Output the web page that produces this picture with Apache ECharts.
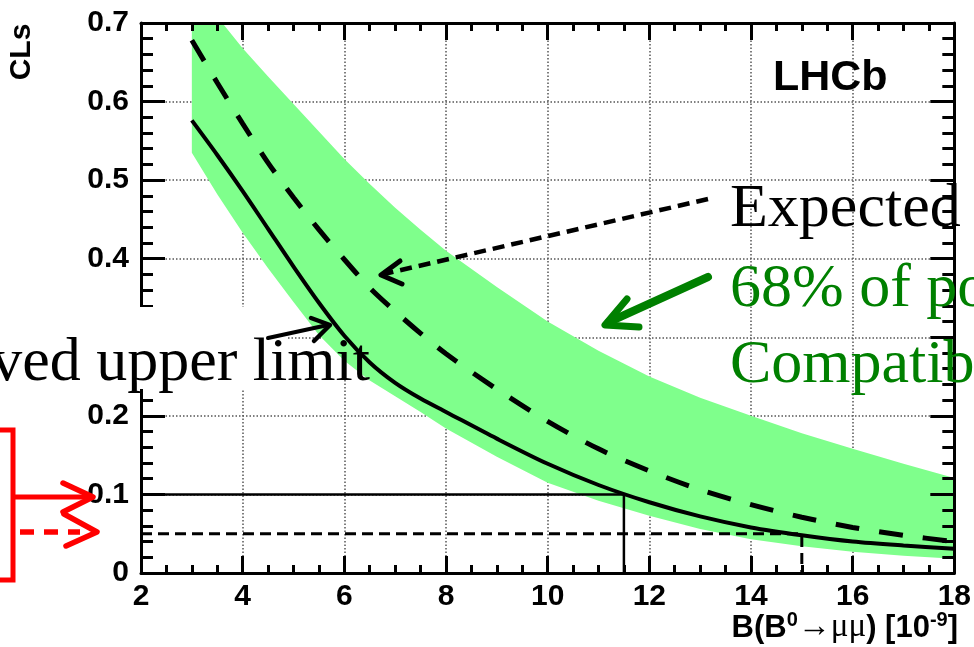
<!DOCTYPE html>
<html>
<head>
<meta charset="utf-8">
<script src="https://cdn.jsdelivr.net/npm/echarts@6/dist/echarts.min.js"></script>
<style>
html, body { margin: 0; padding: 0; background: #fff; }
#chart { width: 974px; height: 647px; }
</style>
</head>
<body>
<div id="chart"></div>
<script>
// CLs scan, B(B0->mumu)
var xs = [3, 3.5, 4, 4.5, 5, 5.5, 6, 6.5, 7, 7.5, 8, 9, 10, 11, 12, 13, 14, 15, 16, 17, 18];
var observed = [0.576, 0.532, 0.486, 0.438, 0.39, 0.344, 0.302, 0.268, 0.242, 0.222, 0.205, 0.171, 0.139, 0.112, 0.09, 0.072, 0.058, 0.048, 0.04, 0.035, 0.031];
var expected = [0.678, 0.624, 0.572, 0.522, 0.478, 0.437, 0.399, 0.363, 0.333, 0.305, 0.279, 0.234, 0.193, 0.158, 0.13, 0.106, 0.087, 0.071, 0.058, 0.048, 0.04];
var bandHigh = [0.75, 0.708, 0.668, 0.632, 0.597, 0.562, 0.527, 0.495, 0.465, 0.437, 0.41, 0.364, 0.32, 0.283, 0.25, 0.223, 0.2, 0.178, 0.158, 0.139, 0.121];
var bandLow = [0.535, 0.482, 0.433, 0.388, 0.345, 0.303, 0.27, 0.245, 0.225, 0.205, 0.184, 0.148, 0.115, 0.092, 0.073, 0.056, 0.043, 0.034, 0.027, 0.022, 0.018];

var limit90 = [11.5, 0.1];
var limit95 = [15, 0.05];

var xTicks = [2, 18, 2];      // min, max, interval
var yTicks = [0, 0.7, 0.1];

function pairs(x, y) {
	var out = [];
	for (var i = 0; i < x.length; i++) {
		out.push([x[i], y[i]]);
	}
	return out;
}

var bandColor = '#7fff8c';
var labelFont = 'Liberation Sans';

function renderBand(params, api) {
	var pts = [];
	for (var i = 0; i < xs.length; i++) {
		pts.push(api.coord([xs[i], bandHigh[i]]));
	}
	for (var j = xs.length - 1; j >= 0; j--) {
		pts.push(api.coord([xs[j], bandLow[j]]));
	}
	var cs = params.coordSys;
	return {
		type: 'polygon',
		shape: { points: pts },
		style: { fill: bandColor },
		clipPath: { type: 'rect', shape: { x: cs.x, y: cs.y, width: cs.width, height: cs.height } }
	};
}

var tickLine = { color: '#000', width: 3 };
var gridLine = { color: '#555', width: 1.5, type: [1.5, 2] };

var myChart = echarts.init(document.getElementById('chart'), null, { renderer: 'canvas' });

var option = {
	animation: false,
	backgroundColor: '#fff',
	grid: { left: 141, right: 17, top: 23, bottom: 74 },
	xAxis: [
		{
			type: 'value', position: 'bottom', min: xTicks[0], max: xTicks[1], interval: xTicks[2], z: 10,
			axisLine: { show: true, onZero: false, lineStyle: tickLine },
			axisTick: { show: true, inside: true, length: 17, lineStyle: tickLine },
			minorTick: { show: true, splitNumber: 4, length: 8, lineStyle: tickLine },
			axisLabel: { color: '#000', fontSize: 30, fontWeight: 'bold', fontFamily: labelFont, margin: 9 },
			splitLine: { show: false }
		},
		{
			type: 'value', position: 'top', min: xTicks[0], max: xTicks[1], interval: xTicks[2], z: 10,
			axisLine: { show: true, onZero: false, lineStyle: tickLine },
			axisTick: { show: true, inside: true, length: 17, lineStyle: tickLine },
			minorTick: { show: true, splitNumber: 4, length: 8, lineStyle: tickLine },
			axisLabel: { show: false },
			splitLine: { show: false }
		},
		{
			// grid lines only, under the band
			type: 'value', position: 'bottom', min: xTicks[0], max: xTicks[1], interval: xTicks[2], z: 0,
			axisLine: { show: false }, axisTick: { show: false }, axisLabel: { show: false },
			splitLine: { show: true, lineStyle: gridLine }
		}
	],
	yAxis: [
		{
			type: 'value', position: 'left', min: yTicks[0], max: yTicks[1], interval: yTicks[2], z: 10,
			axisLine: { show: true, onZero: false, lineStyle: tickLine },
			axisTick: { show: true, inside: true, length: 24, lineStyle: tickLine },
			minorTick: { show: true, splitNumber: 5, length: 12, lineStyle: tickLine },
			axisLabel: {
				color: '#000', fontSize: 30, fontWeight: 'bold', fontFamily: labelFont, margin: 12,
				formatter: function (v) { return v === 0 ? '0' : v.toFixed(1); }
			},
			splitLine: { show: false }
		},
		{
			type: 'value', position: 'right', min: yTicks[0], max: yTicks[1], interval: yTicks[2], z: 10,
			axisLine: { show: true, onZero: false, lineStyle: tickLine },
			axisTick: { show: true, inside: true, length: 24, lineStyle: tickLine },
			minorTick: { show: true, splitNumber: 5, length: 12, lineStyle: tickLine },
			axisLabel: { show: false },
			splitLine: { show: false }
		},
		{
			type: 'value', position: 'left', min: yTicks[0], max: yTicks[1], interval: yTicks[2], z: 0,
			axisLine: { show: false }, axisTick: { show: false }, axisLabel: { show: false },
			splitLine: { show: true, lineStyle: gridLine }
		}
	],
	series: [
		{
			name: 'band', type: 'custom', renderItem: renderBand,
			data: [[xs[0], bandLow[0]]], encode: { x: 0, y: 1 }, silent: true
		},
		{
			name: 'expected', type: 'line', data: pairs(xs, expected), smooth: 0.3, showSymbol: false,
			lineStyle: { color: '#000', width: 5, type: [24, 20] }
		},
		{
			name: 'observed', type: 'line', data: pairs(xs, observed), smooth: 0.3, showSymbol: false,
			lineStyle: { color: '#000', width: 4 }
		},
		{
			name: 'cl90', type: 'line', showSymbol: false,
			data: [[xTicks[0], limit90[1]], [limit90[0], limit90[1]], [limit90[0], 0]],
			lineStyle: { color: '#000', width: 2.5 }
		},
		{
			name: 'cl95', type: 'line', showSymbol: false,
			data: [[xTicks[0], limit95[1]], [limit95[0], limit95[1]], [limit95[0], 0]],
			lineStyle: { color: '#000', width: 3, type: [11, 6] }
		}
	],
	graphic: [
		// axis titles
		{
			type: 'text', x: 22, y: 52, rotation: Math.PI / 2, z: 20,
			style: { text: 'CLs', fill: '#000', font: 'bold 30px "Liberation Sans"', align: 'center', verticalAlign: 'middle' }
		},
		{
			type: 'text', x: 958, y: 627, z: 20,
			style: {
				text: '{b|B(B}{s|0}{a|\u2192\u03bc\u03bc}{b|) [10}{s|-9}{b|]}',
				align: 'right', verticalAlign: 'middle',
				rich: {
					b: { font: 'bold 31px "Liberation Sans"', fill: '#000', verticalAlign: 'bottom', lineHeight: 34 },
					s: { font: 'bold 20px "Liberation Sans"', fill: '#000', verticalAlign: 'top', lineHeight: 34 },
					a: { font: '33px "Liberation Serif"', fill: '#000', verticalAlign: 'bottom', lineHeight: 34 }
				}
			}
		},
		{
			type: 'text', x: 773, y: 78, z: 20,
			style: { text: 'LHCb', fill: '#000', font: 'bold 43px "Liberation Sans"', verticalAlign: 'middle' }
		},
		// overlaid annotations
		{
			type: 'rect', z: 19, shape: { x: 0, y: 307, width: 287, height: 82 }, style: { fill: '#fff' }
		},
		{
			type: 'text', x: 370, y: 364, z: 20,
			style: { text: 'ved upper limit', fill: '#000', font: '62px "Liberation Serif"', align: 'right', verticalAlign: 'middle' }
		},
		{
			type: 'text', x: 730, y: 210, z: 20,
			style: { text: 'Expected', fill: '#000', font: '62px "Liberation Serif"', verticalAlign: 'middle' }
		},
		{
			type: 'text', x: 730, y: 290, z: 20,
			style: { text: '68% of po', fill: '#008000', font: '62px "Liberation Serif"', verticalAlign: 'middle' }
		},
		{
			type: 'text', x: 730, y: 366, z: 20,
			style: { text: 'Compatib', fill: '#008000', font: '62px "Liberation Serif"', verticalAlign: 'middle' }
		},
		// arrows
		{
			type: 'line', z: 21, shape: { x1: 708, y1: 199, x2: 384, y2: 274 },
			style: { stroke: '#000', lineWidth: 4.5, lineDash: [12, 7] }
		},
		{
			type: 'polyline', z: 21, shape: { points: [[400, 261], [381, 275], [402, 284]] },
			style: { stroke: '#000', lineWidth: 5, fill: null, lineCap: 'round', lineJoin: 'round' }
		},
		{
			type: 'line', z: 21, shape: { x1: 268, y1: 338, x2: 328, y2: 325 },
			style: { stroke: '#000', lineWidth: 4, lineCap: 'round' }
		},
		{
			type: 'polyline', z: 21, shape: { points: [[311, 318], [330, 325], [314, 341]] },
			style: { stroke: '#000', lineWidth: 4.5, fill: null, lineCap: 'round', lineJoin: 'round' }
		},
		{
			type: 'line', z: 21, shape: { x1: 708, y1: 277, x2: 609, y2: 322 },
			style: { stroke: '#008000', lineWidth: 8, lineCap: 'round' }
		},
		{
			type: 'polyline', z: 21, shape: { points: [[627, 299], [605, 325], [639, 327]] },
			style: { stroke: '#008000', lineWidth: 7, fill: null, lineCap: 'round', lineJoin: 'round' }
		},
		// red bracket and arrows on the left
		{
			type: 'polyline', z: 21, shape: { points: [[-5, 430], [13, 430], [13, 580], [-5, 580]] },
			style: { stroke: '#ff0000', lineWidth: 5, fill: null }
		},
		{
			type: 'line', z: 21, shape: { x1: 13, y1: 497, x2: 90, y2: 497 },
			style: { stroke: '#ff0000', lineWidth: 5 }
		},
		{
			type: 'polyline', z: 21, shape: { points: [[63, 483], [93, 497], [63, 512]] },
			style: { stroke: '#ff0000', lineWidth: 5.5, fill: null, lineCap: 'round', lineJoin: 'round' }
		},
		{
			type: 'line', z: 21, shape: { x1: 20, y1: 532, x2: 80, y2: 532 },
			style: { stroke: '#ff0000', lineWidth: 5.5, lineDash: [14, 10] }
		},
		{
			type: 'polyline', z: 21, shape: { points: [[64, 514], [97, 532], [66, 546]] },
			style: { stroke: '#ff0000', lineWidth: 5.5, fill: null, lineCap: 'round', lineJoin: 'round' }
		}
	]
};

myChart.setOption(option);
</script>
</body>
</html>
